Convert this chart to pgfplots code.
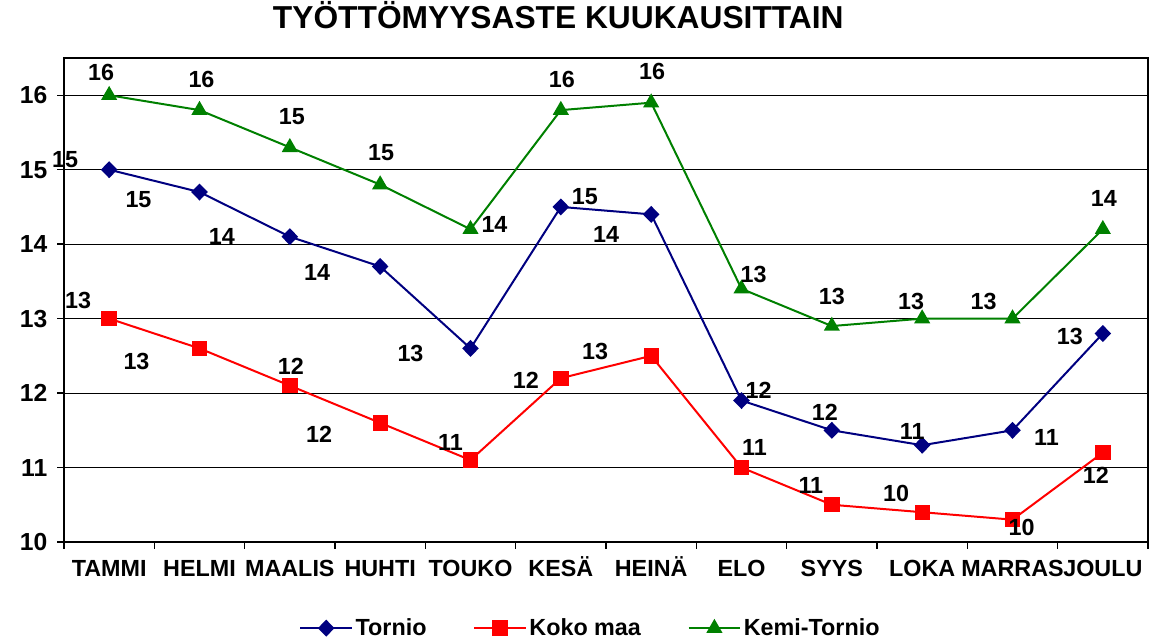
\documentclass[border=0pt]{standalone}
\usepackage{fontspec}
\setmainfont{Liberation Sans}
\usepackage{pgfplots}
\usepackage{pgfplotstable}
\pgfplotsset{compat=1.18}
\definecolor{tornio}{RGB}{0,0,128}
\definecolor{kokomaa}{RGB}{255,0,0}
\definecolor{kemi}{RGB}{0,128,0}

% x = month index, lbl = rounded label, dx/dy = label offset in px
\pgfplotstableread{
x y lbl dx dy
0 15.0 15 -44 10
1 14.7 15 -61 -8
2 14.1 14 -68 0
3 13.7 14 -63 -6
4 12.6 13 -60 -5
5 14.5 15 24 10
6 14.4 14 -45 -20
7 11.9 12 17 10
8 11.5 12 -7 18
9 11.3 11 -10 14
10 11.5 11 34 -7
11 12.8 13 -33 -3
}\tabtornio

\pgfplotstableread{
x y lbl dx dy
0 13.0 13 -31 18
1 12.6 13 -63 -13
2 12.1 12 1 19
3 11.6 12 -61 -11
4 11.1 11 -20 18
5 12.2 12 -35 -2
6 12.5 13 -56 4
7 11.0 11 13 20
8 10.5 11 -21 19
9 10.4 10 -26 19
10 10.3 10 9 -8
11 11.2 12 -7 -23
}\tabkoko

\pgfplotstableread{
x y lbl dx dy
0 16.0 16 -8 23
1 15.8 16 2 31
2 15.3 15 2 31
3 14.8 15 1 32
4 14.2 14 24 5
5 15.8 16 1 31
6 15.9 16 1 31
7 13.4 13 12 14
8 12.9 13 0 30
9 13.0 13 -11 17
10 13.0 13 -29 17
11 14.2 14 1 31
}\tabkemi

\pgfplotsset{
  lbls/.style={
    point meta=explicit symbolic,
    nodes near coords,
    visualization depends on={\thisrow{dx} \as \dx},
    visualization depends on={\thisrow{dy} \as \dy},
    every node near coord/.append style={font=\bfseries\fontsize{17.5}{20}\selectfont, black, anchor=center, xshift=\dx*0.75pt, yshift=\dy*0.75pt},
  },
  trn/.style={tornio, line width=1.5pt, mark=diamond*, mark size=5.3pt, mark options={xscale=1.3}},
  kok/.style={kokomaa, line width=1.5pt, mark=square*, mark size=5pt},
  kem/.style={kemi, line width=1.5pt, mark=triangle*, mark size=5.5pt},
}

\begin{document}
\begin{tikzpicture}
\begin{axis}[
    scale only axis,
    width=813pt, height=363pt,
    xmin=-0.5, xmax=11.5, ymin=10, ymax=16.5,
    axis line style={black, line width=1.5pt},
    xtick={0,...,11},
    xticklabels={TAMMI,HELMI,MAALIS,HUHTI,TOUKO,KESÄ,HEINÄ,ELO,SYYS,LOKA,MARRAS,JOULU},
    major x tick style={draw=none},
    minor xtick={-0.5,0.5,...,11.5},
    minor x tick style={black, line width=1pt},
    minor tick length=5pt,
    ytick={10,...,16},
    major y tick style={black, line width=1pt},
    major tick length=5pt,
    tick align=outside,
    tick pos=left,
    ymajorgrids,
    major grid style={black, line width=0.6pt},
    /pgf/number format/assume math mode=true,
    xticklabel style={font=\bfseries\fontsize{17.5}{20}\selectfont, text height=15.5pt, text depth=0pt, yshift=-2pt},
    yticklabel style={font=\bfseries\fontsize{18.5}{20}\selectfont, xshift=-4pt},
    title={TYÖTTÖMYYSASTE KUUKAUSITTAIN},
    title style={font=\bfseries\fontsize{23.8}{26}\selectfont, at={(0.456,1)}, anchor=base, yshift=15.75pt},
    clip=false,
    legend columns=-1,
    legend style={draw=none, fill=none, at={(0.486,-0.178)}, anchor=center,
        font=\bfseries\fontsize{17.5}{20}\selectfont,
        /tikz/every even column/.append style={column sep=33pt}},
    legend image code/.code={\draw[mark repeat=2, mark phase=2] plot coordinates {(0cm,0cm) (0.68cm,0cm) (1.36cm,0cm)};},
]
\addlegendimage{trn}
\addlegendimage{kok}
\addlegendimage{kem}
\addplot[trn, lbls, forget plot] table[x=x, y=y, meta=lbl] {\tabtornio};
\addplot[kok, lbls, forget plot] table[x=x, y=y, meta=lbl] {\tabkoko};
\addplot[kem, lbls, forget plot] table[x=x, y=y, meta=lbl] {\tabkemi};
\legend{Tornio, Koko maa, Kemi-Tornio}
\end{axis}
\pgfresetboundingbox
\path[use as bounding box] (-48pt,-75pt) rectangle (814.5pt,406.5pt);
\end{tikzpicture}
\end{document}
